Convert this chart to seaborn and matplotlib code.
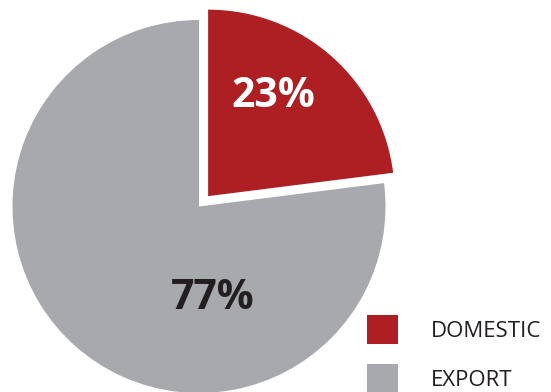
import matplotlib
matplotlib.use("Agg")
import matplotlib.pyplot as plt
import seaborn as sns
from matplotlib.patches import Patch

categories = ["DOMESTIC", "EXPORT"]
values = [23, 77]
labels = ["23%", "77%"]

sns.set_theme(style="white")
plt.rcParams['font.family'] = ['Open Sans', 'DejaVu Sans']

colors = ["#AE1F24", "#A7A9AC"]

fig = plt.figure(figsize=(5.51, 3.92), dpi=100)
ax = fig.add_axes([12.5/551, -1/392, 373/551, 373/392])
wedges, _ = ax.pie(values, colors=colors, startangle=90, counterclock=False,
                   explode=[0.074, 0], radius=1.0,
                   wedgeprops=dict(linewidth=0, clip_on=False))
ax.set_xlim(-1, 1)
ax.set_ylim(-1, 1)
ax.set_aspect('equal')
ax.axis('off')

ax.text(0.40, 0.59, labels[0], color="white", fontsize=29.5, fontweight="bold",
        ha="center", va="center")
ax.text(0.075, -0.495, labels[1], color="#231F20", fontsize=29.5, fontweight="bold",
        ha="center", va="center")

handles = [Patch(facecolor=c, edgecolor='none') for c in colors]
leg = fig.legend(handles, categories, loc="upper left",
                 bbox_to_anchor=(358/551, 1 - 306/392), frameon=False,
                 fontsize=16, handlelength=1.42, handleheight=1.65,
                 handletextpad=1.45, labelspacing=0.9, borderaxespad=0)
for t in leg.get_texts():
    t.set_color("#231F20")

fig.savefig("out.png", dpi=100)
